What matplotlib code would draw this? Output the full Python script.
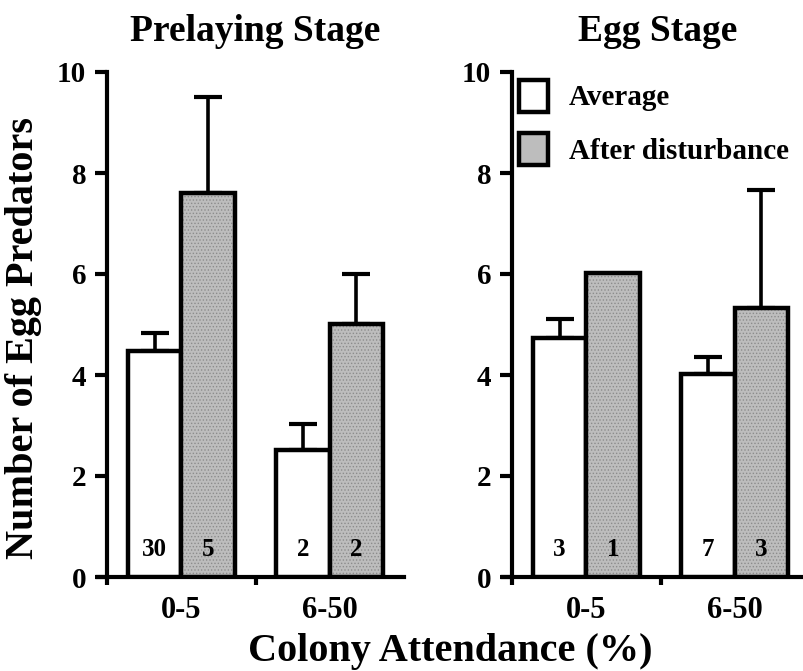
import matplotlib
matplotlib.use("Agg")
import matplotlib.pyplot as plt
from matplotlib.patches import Patch
import numpy as np

plt.rcParams['font.family'] = ['Liberation Serif', 'DejaVu Serif']
plt.rcParams['font.weight'] = 'bold'
plt.rcParams['hatch.linewidth'] = 0.6

groups = ["0-5", "6-50"]
panels = ["Prelaying Stage", "Egg Stage"]
series = ["Average", "After disturbance"]

# Prelaying stage
pre_avg = [4.47, 2.52]
pre_avg_top = [4.84, 3.03]
pre_dist = [7.60, 5.01]
pre_dist_top = [9.51, 6.00]
pre_n_avg = ["30", "2"]
pre_n_dist = ["5", "2"]

# Egg stage
egg_avg = [4.74, 4.01]
egg_avg_top = [5.10, 4.35]
egg_dist = [6.02, 5.33]
egg_dist_top = [6.02, 7.66]
egg_n_avg = ["3", "7"]
egg_n_dist = ["1", "3"]

yticks = [0, 2, 4, 6, 8, 10]

W, H = 804, 671
fig = plt.figure(figsize=(W / 100, H / 100), dpi=100)

unit = 148.5
y0_px, y10_px = 577, 72
bottom = (H - y0_px) / H
height = (y0_px - y10_px) / H

ax1 = fig.add_axes([107 / W, bottom, 2.0 * unit / W, height])
ax2 = fig.add_axes([512 / W, bottom, 1.96 * unit / W, height])

bw = 0.36
gray = '#bdbdbd'
dot = '#8c8c8c'
lw = 3.2


def draw(ax, avg, avg_top, dist, dist_top, n_avg, n_dist, xmax):
    x = np.arange(len(groups))
    ax.bar(x - bw / 2, avg, bw, color='white', edgecolor='black', linewidth=lw, zorder=3)
    ax.bar(x + bw / 2, dist, bw, color=gray, edgecolor=dot, hatch='.....', linewidth=0, zorder=3)
    ax.bar(x + bw / 2, dist, bw, color='none', edgecolor='black', linewidth=lw, zorder=3.1)
    for xi, v, t in zip(x - bw / 2, avg, avg_top):
        if t - v > 0.05:
            ax.errorbar([xi], [v], yerr=[[0], [t - v]], fmt='none', ecolor='black',
                        elinewidth=2.6, capsize=10, capthick=3, zorder=2)
    for xi, v, t in zip(x + bw / 2, dist, dist_top):
        if t - v > 0.05:
            ax.errorbar([xi], [v], yerr=[[0], [t - v]], fmt='none', ecolor='black',
                        elinewidth=2.6, capsize=10, capthick=3, zorder=2)
    for xi, s in zip(x - bw / 2, n_avg):
        ax.text(xi, 0.55, s, ha='center', va='center', fontsize=18, fontweight='bold', zorder=4)
    for xi, s in zip(x + bw / 2, n_dist):
        ax.text(xi, 0.55, s, ha='center', va='center', fontsize=18, fontweight='bold', zorder=4)
    ax.set_xlim(-0.5, xmax)
    ax.set_ylim(0, 10)
    ax.set_yticks(yticks)
    ax.set_yticklabels([str(v) for v in yticks], fontsize=21, fontweight='bold')
    ax.set_xticks(x)
    ax.set_xticklabels(groups, fontsize=22, fontweight='bold')
    ax.tick_params(axis='x', length=0, pad=14)
    ax.set_xticks([-0.5, 0.5], minor=True)
    ax.tick_params(axis='x', which='minor', length=6, width=3, direction='out')
    ax.tick_params(axis='y', length=9, width=3, direction='out', pad=6)
    for s in ['top', 'right']:
        ax.spines[s].set_visible(False)
    for s in ['left', 'bottom']:
        ax.spines[s].set_linewidth(3.0)
    ax.spines['bottom'].set_bounds(-0.56, xmax)


draw(ax1, pre_avg, pre_avg_top, pre_dist, pre_dist_top, pre_n_avg, pre_n_dist, 1.5)
draw(ax2, egg_avg, egg_avg_top, egg_dist, egg_dist_top, egg_n_avg, egg_n_dist, 1.46)

ax1.set_title(panels[0], fontsize=27, fontweight='bold', pad=22)
ax2.set_title(panels[1], fontsize=27, fontweight='bold', pad=22)

fig.text(24 / W, (H - 338) / H, "Number of Egg Predators", rotation=90, ha='center', va='center',
         fontsize=29, fontweight='bold')
fig.text(450 / W, (H - 661) / H, "Colony Attendance (%)", ha='center', va='baseline',
         fontsize=29, fontweight='bold')

handles = [Patch(facecolor='white', edgecolor='black', linewidth=lw),
           Patch(facecolor=gray, edgecolor='black', linewidth=lw)]
ax2.legend(handles, series, loc='upper left', bbox_to_anchor=(-0.045, 1.025), frameon=False,
           prop={'family': 'Liberation Serif', 'weight': 'bold', 'size': 21},
           handlelength=1.0, handleheight=1.3, handletextpad=0.7, labelspacing=0.75,
           borderaxespad=0.3)

fig.savefig("out.png", dpi=100)
